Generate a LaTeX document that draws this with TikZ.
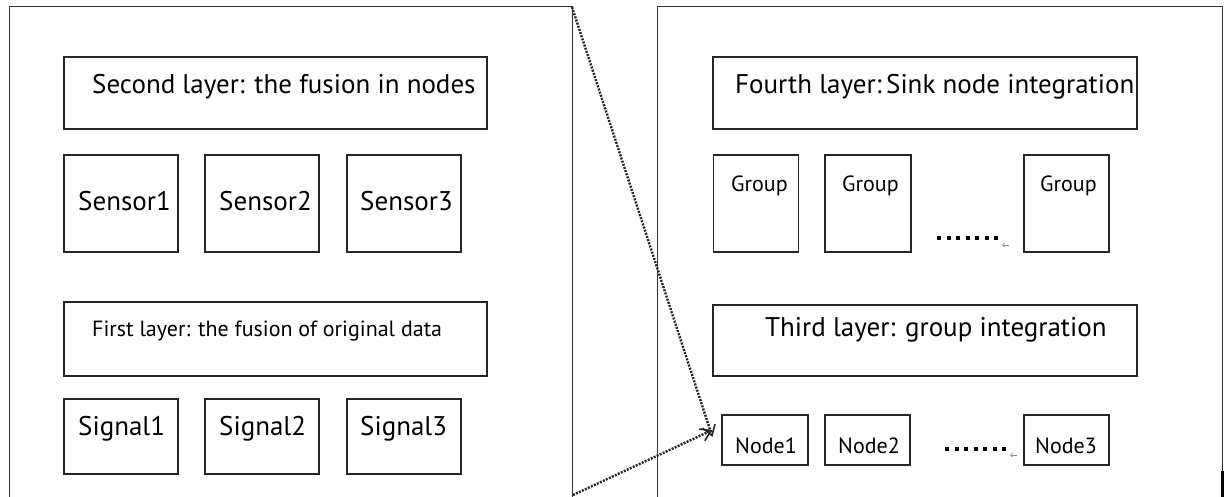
\documentclass[tikz,border=0pt]{standalone}
\usepackage{fontspec}
\setmainfont{PT Sans}
\usetikzlibrary{arrows.meta}
\tikzset{
  panel/.style={draw=black!80, line width=1pt},
  box/.style={draw=black!85, line width=1.2pt, rectangle, inner sep=0pt},
  lbl/.style={anchor=base west, inner sep=0pt, font=\fontsize{27}{31}\selectfont},
  slbl/.style={anchor=base west, inner sep=0pt, font=\fontsize{22}{26}\selectfont},
  link/.style={draw=black!85, line width=2.4pt, dash pattern=on 2pt off 1.3pt, -{Straight Barb[length=10pt,width=13pt,line width=1.6pt]}},
  dotrow/.style={line width=4pt, dash pattern=on 4pt off 5.5pt},
  parmark/.style={draw=black!45, line width=0.7pt, -{Straight Barb[length=2pt,width=4pt]}}
}
\begin{document}
\begin{tikzpicture}[x=1pt,y=-1pt]
\useasboundingbox (0,0) rectangle (1231,497);
% panels
\draw[panel] (9,498) -- (9,7) -- (572,7) -- (572,498);
\draw[panel] (657,498) -- (657,7) -- (1222,7) -- (1222,498);
\draw[line width=3pt] (1222.5,471) -- (1222.5,497);
\coordinate (ltop) at (572,7);
\coordinate (lbot) at (573,495);
% left panel boxes
\node[box, minimum width=423pt, minimum height=72pt] (L2) at (275.5,93) {};
\node[box, minimum width=114pt, minimum height=97pt] (S1) at (121,203.5) {};
\node[box, minimum width=114pt, minimum height=97pt] (S2) at (262,203.5) {};
\node[box, minimum width=114pt, minimum height=97pt] (S3) at (404,203.5) {};
\node[box, minimum width=423pt, minimum height=74pt] (L1) at (275.5,339) {};
\node[box, minimum width=114pt, minimum height=75pt] (G1) at (121,436.5) {};
\node[box, minimum width=114pt, minimum height=75pt] (G2) at (262,436.5) {};
\node[box, minimum width=114pt, minimum height=75pt] (G3) at (404,436.5) {};
\node[lbl] (t2) at (92,94) {Second layer: the fusion in nodes};
\node[lbl] (ts1) at (78,211) {Sensor1};
\node[lbl] (ts2) at (219,211) {Sensor2};
\node[lbl] (ts3) at (360,211) {Sensor3};
\node[slbl] (t1) at (92,336) {First layer: the fusion of original data};
\node[lbl] (tg1) at (78,435) {Signal1};
\node[lbl] (tg2) at (219,435) {Signal2};
\node[lbl] (tg3) at (360,435) {Signal3};
% right panel boxes
\node[box, minimum width=424pt, minimum height=72pt] (L4) at (925,93) {};
\node[box, minimum width=85pt, minimum height=97pt] (R1) at (756,203.5) {};
\node[box, minimum width=86pt, minimum height=97pt] (R2) at (868,203.5) {};
\node[box, minimum width=85pt, minimum height=97pt] (R3) at (1066.5,203.5) {};
\node[box, minimum width=424pt, minimum height=71pt] (L3) at (925,340.5) {};
\node[box, minimum width=86pt, minimum height=50pt] (N1) at (765,440) {};
\node[box, minimum width=85pt, minimum height=50pt] (N2) at (867.5,440) {};
\node[box, minimum width=85pt, minimum height=50pt] (N3) at (1066.5,440) {};
\node[lbl] (t4) at (735,94) {Fourth layer:\,Sink node integration};
\node[slbl] (tr1) at (731,192) {Group};
\node[slbl] (tr2) at (842,192) {Group};
\node[slbl] (tr3) at (1040,192) {Group};
\node[lbl] (t3) at (765,336) {Third layer: group integration};
\node[slbl] (tn1) at (735,453) {Node1};
\node[slbl] (tn2) at (838,453) {Node2};
\node[slbl] (tn3) at (1035,453) {Node3};
% ellipses
\draw[dotrow] (937,238) -- (999,238);
\draw[dotrow] (945,449) -- (1007,449);
\draw[parmark] (1009,245) -- (1002,245);
\draw[parmark] (1017,455) -- (1010,455);
% connectors
\draw[link] (ltop) -- ([xshift=-9pt,yshift=3pt]N1.west);
\draw[link] (lbot) -- ([xshift=-9pt,yshift=10pt]N1.west);
\end{tikzpicture}
\end{document}
